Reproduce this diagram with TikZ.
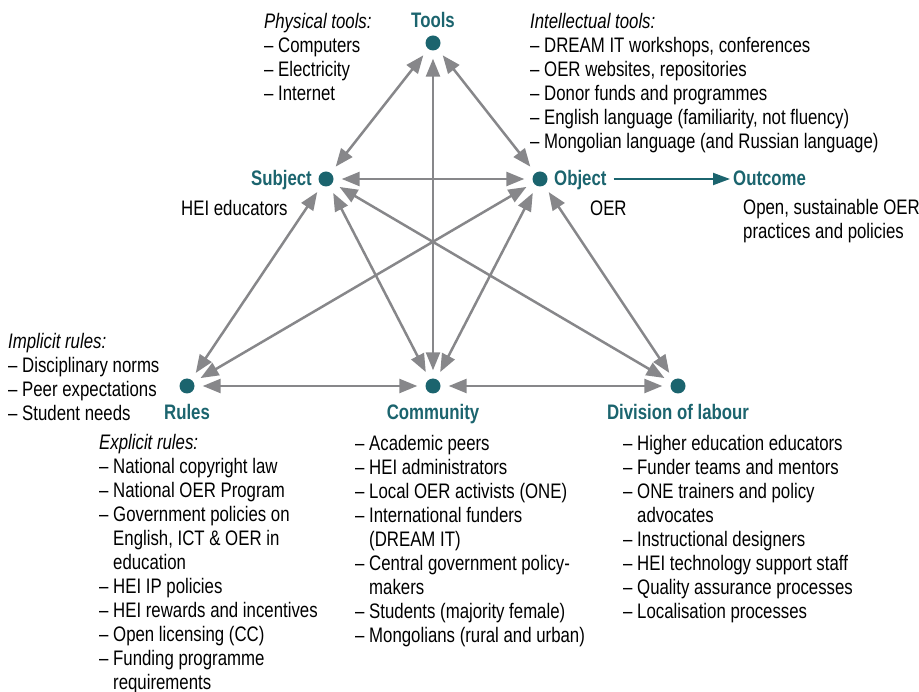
\documentclass[tikz,border=0pt]{standalone}
\usepackage{fontspec}
\setmainfont{Liberation Sans}[FakeStretch=0.8]
\usetikzlibrary{arrows.meta}
\definecolor{tealc}{RGB}{27,100,110}
\definecolor{arrgray}{RGB}{135,135,138}
\newcommand\ind{\hphantom{–\ }}
\begin{document}
\begin{tikzpicture}[x=1pt,y=-1pt,
  dot/.style={circle,fill=tealc,minimum size=15pt,inner sep=0pt},
  lab/.style={font=\fontsize{21}{24}\selectfont\bfseries,text=tealc,inner sep=0pt,anchor=base},
  txt/.style={font=\fontsize{21}{24}\selectfont,align=left,inner sep=0pt,anchor=north west},
  link/.style={draw=arrgray,line width=2.5pt,{Triangle[length=18pt,width=14pt]}-{Triangle[length=18pt,width=14pt]},shorten <=8pt,shorten >=8pt},
  outarrow/.style={draw=tealc,line width=2pt,-{Triangle[length=17pt,width=12pt]},shorten <=7pt,shorten >=3pt}
]
\useasboundingbox (0,0) rectangle (919,692);

% dots
\node[dot] (tools) at (433,43) {};
\node[dot] (subject) at (326,179) {};
\node[dot] (object) at (540,179) {};
\node[dot] (rules) at (187,386) {};
\node[dot] (community) at (433,386) {};
\node[dot] (division) at (678,386) {};

% labels
\node[lab] (toolsl) at (433,28) {Tools};
\node[lab,anchor=base east] (subjectl) at (312,186) {Subject};
\node[lab,anchor=base west] (objectl) at (554,186) {Object};
\node[lab,anchor=base west] (outcomel) at (733,186) {Outcome};
\node[lab] (rulesl) at (187,420) {Rules};
\node[lab] (communityl) at (433,420) {Community};
\node[lab] (divisionl) at (678,420) {Division of labour};

% text blocks
\node[txt] (phys) at (264,11.2) {\strut\textit{Physical tools:}\\–\ Computers\\–\ Electricity\\–\ Internet};
\node[txt] (intel) at (530,11.2) {\strut\textit{Intellectual tools:}\\–\ DREAM IT workshops, conferences\\–\ OER websites, repositories\\–\ Donor funds and programmes\\–\ English language (familiarity, not fluency)\\–\ Mongolian language (and Russian language)};
\node[txt] (hei) at (181,198.2) {\strut HEI educators};
\node[txt] (oer) at (590,198.2) {\strut OER};
\node[txt] (outtxt) at (743,197.2) {\strut Open, sustainable OER\\practices and policies};
\node[txt] (implicit) at (8,331.2) {\strut\textit{Implicit rules:}\\–\ Disciplinary norms\\–\ Peer expectations\\–\ Student needs};
\node[txt] (explicit) at (99,432.2) {\strut\textit{Explicit rules:}\\–\ National copyright law\\–\ National OER Program\\–\ Government policies on\\\ind English, ICT \& OER in\\\ind education\\–\ HEI IP policies\\–\ HEI rewards and incentives\\–\ Open licensing (CC)\\–\ Funding programme\\\ind requirements};
\node[txt] (commtxt) at (355,433.2) {\strut–\ Academic peers\\–\ HEI administrators\\–\ Local OER activists (ONE)\\–\ International funders\\\ind (DREAM IT)\\–\ Central government policy-\\\ind makers\\–\ Students (majority female)\\–\ Mongolians (rural and urban)};
\node[txt] (divtxt) at (623,433.2) {\strut–\ Higher education educators\\–\ Funder teams and mentors\\–\ ONE trainers and policy\\\ind advocates\\–\ Instructional designers\\–\ HEI technology support staff\\–\ Quality assurance processes\\–\ Localisation processes};

% connectors
\draw[link] (tools) -- (subject);
\draw[link] (tools) -- (object);
\draw[link] (tools) -- (community);
\draw[link] (subject) -- (object);
\draw[link] (subject) -- (rules);
\draw[link] (subject) -- (community);
\draw[link] (subject) -- (division);
\draw[link] (object) -- (rules);
\draw[link] (object) -- (community);
\draw[link] (object) -- (division);
\draw[link] (rules) -- (community);
\draw[link] (community) -- (division);
\draw[outarrow] (objectl.east |- object) -- (outcomel.west |- object);
\end{tikzpicture}
\end{document}
